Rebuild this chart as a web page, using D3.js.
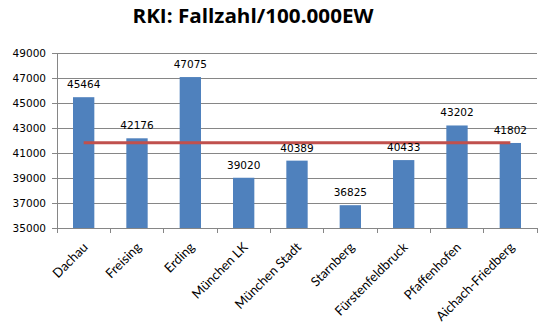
<!DOCTYPE html>
<html>
<head>
<meta charset="utf-8">
<script src="https://cdn.jsdelivr.net/npm/d3@7"></script>
<style>
  body { margin: 0; background: #fff; }
  text { font-family: "DejaVu Sans", sans-serif; }
</style>
</head>
<body>
<div id="chart"></div>
<script>
var categories = ["Dachau", "Freising", "Erding", "München LK", "München Stadt", "Starnberg", "Fürstenfeldbruck", "Pfaffenhofen", "Aichach-Friedberg"];
var values = [45464, 42176, 47075, 39020, 40389, 36825, 40433, 43202, 41802];
var yTicks = [35000, 37000, 39000, 41000, 43000, 45000, 47000, 49000];
var average = d3.mean(values);

var margin = { top: 53, right: 3, bottom: 106, left: 57 },
  width = 540 - margin.left - margin.right,
  height = 334 - margin.top - margin.bottom;

var svg = d3.select("#chart").append("svg")
  .attr("width", 540)
  .attr("height", 334);

svg.append("text")
  .attr("x", 253)
  .attr("y", 23)
  .attr("text-anchor", "middle")
  .style("font-family", "'Open Sans', sans-serif")
  .style("font-weight", "bold")
  .style("font-size", "20px")
  .attr("textLength", 241)
  .attr("lengthAdjust", "spacingAndGlyphs")
  .text("RKI: Fallzahl/100.000EW");

var g = svg.append("g")
  .attr("transform", "translate(" + margin.left + "," + margin.top + ")");

var x = d3.scaleBand().domain(categories).range([0, width]).paddingInner(0.6).paddingOuter(0.3);
var xb = d3.scaleBand().domain(categories).range([0, width]);
var y = d3.scaleLinear().domain([35000, 49000]).range([height, 0]);

// gridlines
g.selectAll(".grid")
  .data(yTicks.slice(1))
  .enter().append("line")
  .attr("x1", 0).attr("x2", width)
  .attr("y1", d => y(d)).attr("y2", d => y(d))
  .style("stroke", "#868686").style("stroke-width", 1)
  .attr("shape-rendering", "crispEdges");

// y axis
var yAxis = g.append("g")
  .call(d3.axisLeft(y).tickValues(yTicks).tickSize(5).tickPadding(6).tickFormat(d3.format("d")));
yAxis.selectAll("line, path").style("stroke", "#868686").attr("shape-rendering", "crispEdges");
yAxis.select(".domain").attr("d", "M0," + height + "V0");
yAxis.selectAll("text").style("font-size", "10.5px").style("fill", "#000");

// bars
g.selectAll(".bar")
  .data(values)
  .enter().append("rect")
  .attr("x", (d, i) => x(categories[i]))
  .attr("width", x.bandwidth())
  .attr("y", d => y(d))
  .attr("height", d => height - y(d))
  .style("fill", "#4F81BD");

// x axis with ticks at category boundaries
var xAxis = g.append("g").attr("transform", "translate(0," + height + ")");
xAxis.append("line")
  .attr("x1", 0).attr("x2", width).attr("y1", 0).attr("y2", 0)
  .style("stroke", "#868686").attr("shape-rendering", "crispEdges");
xAxis.selectAll(".tick")
  .data(categories.concat([null]))
  .enter().append("line")
  .attr("x1", (d, i) => i * xb.step()).attr("x2", (d, i) => i * xb.step())
  .attr("y1", 0).attr("y2", 5)
  .style("stroke", "#868686").attr("shape-rendering", "crispEdges");
xAxis.selectAll(".label")
  .data(categories)
  .enter().append("text")
  .attr("transform", d => "translate(" + (xb(d) + xb.bandwidth() / 2 + 5) + ",20) rotate(-45)")
  .attr("text-anchor", "end")
  .style("font-family", "Lato, sans-serif")
  .style("font-size", "13px")
  .text(d => d);

// average line
g.append("line")
  .attr("x1", xb(categories[0]) + xb.bandwidth() / 2)
  .attr("x2", xb(categories[categories.length - 1]) + xb.bandwidth() / 2)
  .attr("y1", y(average)).attr("y2", y(average))
  .style("stroke", "#C0504D").style("stroke-width", 3);

// data labels
g.selectAll(".valLabel")
  .data(values)
  .enter().append("text")
  .attr("x", (d, i) => x(categories[i]) + x.bandwidth() / 2)
  .attr("y", d => y(d) - 9)
  .attr("text-anchor", "middle")
  .style("font-size", "10.5px")
  .text(d => d);
</script>
</body>
</html>
